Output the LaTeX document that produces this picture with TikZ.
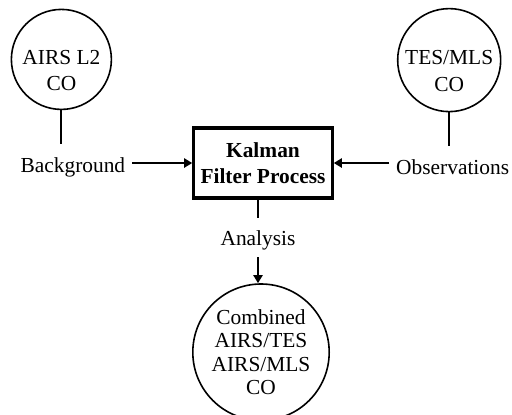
\documentclass[tikz,border=0pt]{standalone}
\usepackage{fontspec}
\setmainfont{Liberation Serif}
\usepackage{tikz}
\usetikzlibrary{arrows.meta,positioning}

\begin{document}
\begin{tikzpicture}[
    font=\fontsize{10.7}{13.3}\selectfont,
    src/.style={draw, circle, line width=0.8pt, minimum size=50pt, inner sep=0pt},
    ctxt/.style={align=center, yshift=-5.5pt},
    proc/.style={draw, line width=1.6pt, minimum width=68.4pt, minimum height=35pt, align=center, font=\fontsize{10.7}{13.3}\selectfont\bfseries},
    res/.style={draw, circle, line width=0.8pt, minimum size=68.2pt, inner sep=0pt, align=center, font=\fontsize{10.7}{11.75}\selectfont},
    lbl/.style={inner sep=3.33pt},
    stub/.style={line width=1pt},
    flow/.style={-{Triangle[length=4pt, width=4.5pt]}, line width=1pt}
]
\useasboundingbox (-131.5pt,81.5pt) rectangle (124.5pt,-125.5pt);

\node[proc] (kf) at (0,0) {Kalman\\Filter Process};
\node[lbl, left=30pt of kf, yshift=-2pt] (bg) {Background};
\node[lbl, right=27.7pt of kf, yshift=-2pt] (obs) {Observations};
\node[src, above=20pt of bg, xshift=-5.75pt, label={[ctxt]center:AIRS L2\\CO}] (airs) {};
\node[src, above=20pt of obs, xshift=-1.75pt, minimum size=51.5pt, label={[ctxt]center:TES/MLS\\CO}] (tes) {};
\node[lbl, below=12pt of kf, xshift=-2.5pt] (an) {Analysis};
\node[res, below=13pt of an, xshift=1.5pt] (comb) {Combined\\AIRS/TES\\AIRS/MLS\\CO};

\draw[stub, shorten >=3pt] (airs.south) -- (airs.south |- bg.north);
\draw[stub, shorten >=3pt] (tes.south) -- (tes.south |- obs.north);
\draw[flow] (bg.east |- kf.west) -- (kf.west);
\draw[flow] (obs.west |- kf.east) -- (kf.east);
\draw[stub, shorten >=3pt] (an.north |- kf.south) -- (an.north);
\draw[flow] (an.south) -- (an.south |- comb.north);
\end{tikzpicture}
\end{document}
